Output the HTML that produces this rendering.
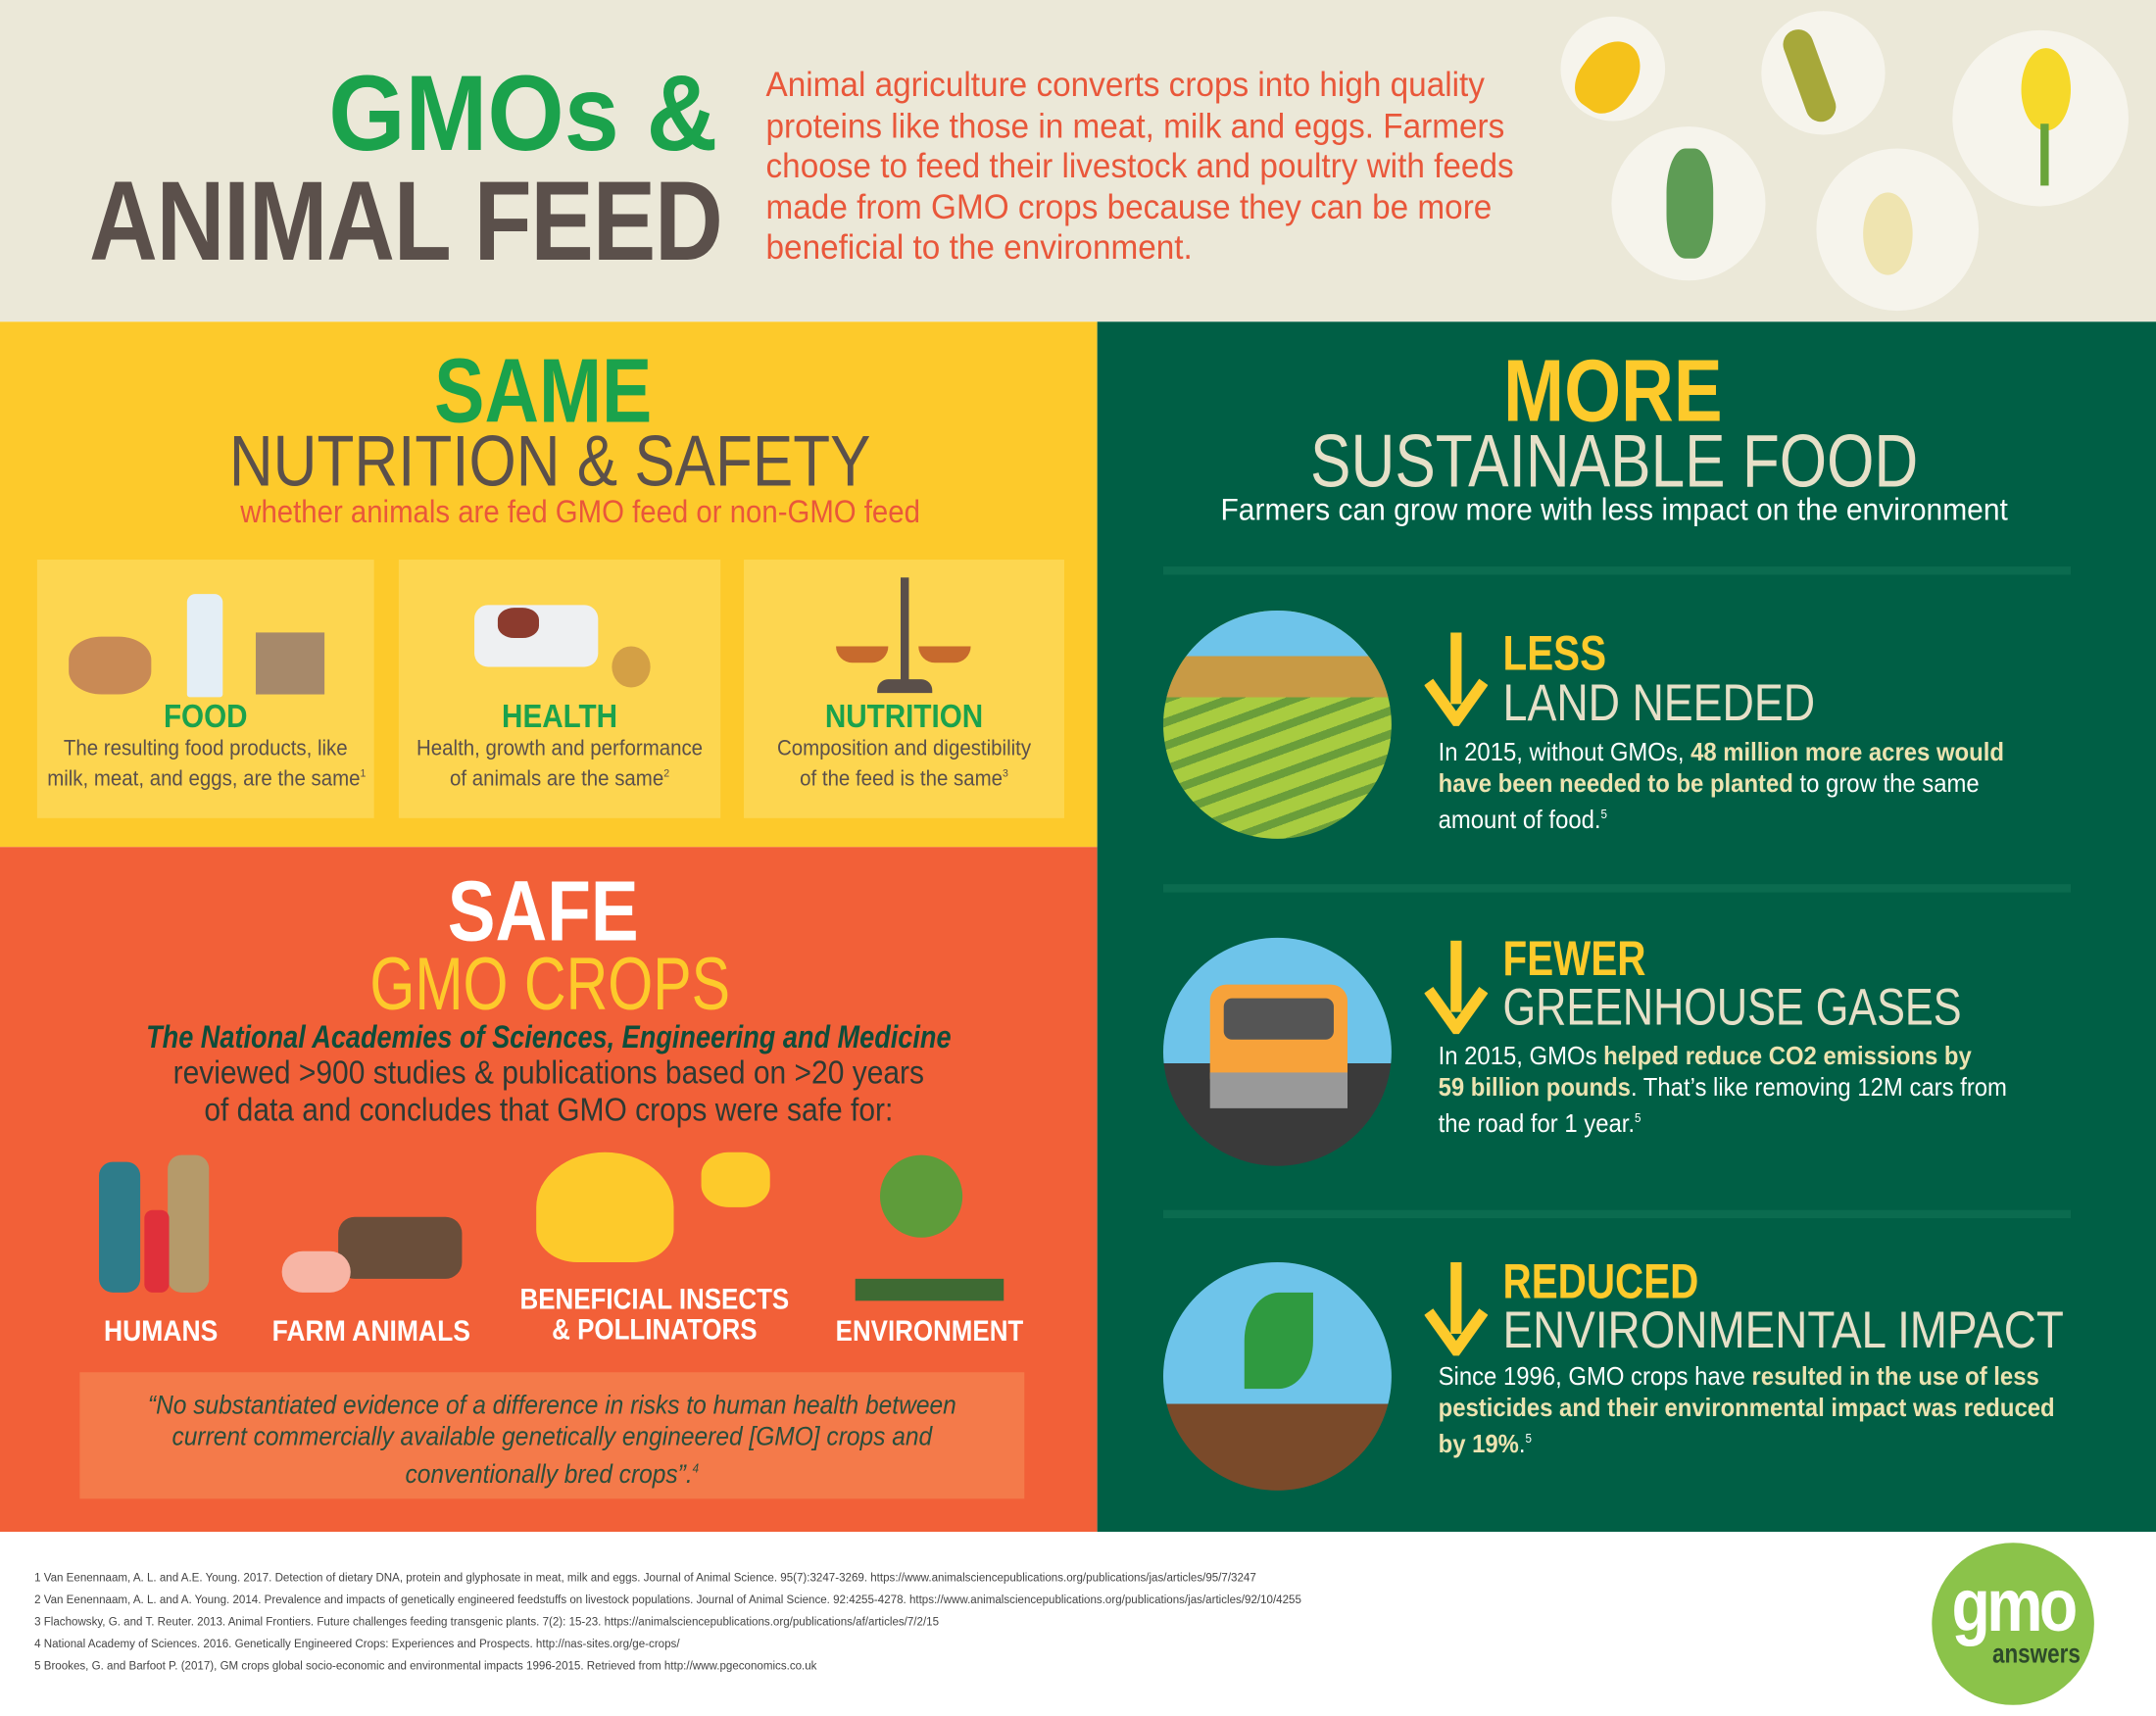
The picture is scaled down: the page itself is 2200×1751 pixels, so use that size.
<!DOCTYPE html>
<html><head><meta charset="utf-8"><style>
*{margin:0;padding:0;box-sizing:border-box}
html,body{width:2200px;height:1750px;overflow:hidden;background:#fff}
#w{position:absolute;left:0;top:0;width:1568px;height:1248px;transform:scale(1.40306);transform-origin:0 0;font-family:"Liberation Sans",sans-serif}
.a{position:absolute;white-space:nowrap}
.c{text-align:center}
.L{transform-origin:0 0}
.R{transform-origin:100% 0}
.circ{position:absolute;border-radius:50%;background:#f6f4ec}
.b{font-weight:bold}
</style></head><body><div id="w">
<!-- header -->
<div class="a" style="left:0;top:0;width:1568px;height:234px;background:#ebe8d8"></div>
<div class="a b R" style="left:20px;top:40px;width:502px;text-align:right;font-size:78px;line-height:84px;color:#1ba24c;transform:scaleX(.92)">GMOs &amp;</div>
<div class="a b R" style="left:-100px;top:120px;width:625px;text-align:right;font-size:82px;line-height:84px;color:#5b504b;letter-spacing:-1px;transform:scaleX(.84)">ANIMAL FEED</div>
<div class="a L" style="left:557px;top:48px;font-size:25px;line-height:29.6px;color:#e9573a;transform:scaleX(.95)">Animal agriculture converts crops into high quality<br>proteins like those in meat, milk and eggs. Farmers<br>choose to feed their livestock and poultry with feeds<br>made from GMO crops because they can be more<br>beneficial to the environment.</div>
<div class="circ" style="left:1135px;top:12px;width:76px;height:76px"></div>
<div class="circ" style="left:1281px;top:8px;width:90px;height:90px"></div>
<div class="circ" style="left:1420px;top:22px;width:128px;height:128px"></div>
<div class="circ" style="left:1172px;top:92px;width:112px;height:112px"></div>
<div class="circ" style="left:1321px;top:108px;width:118px;height:118px"></div>
<div class="a" style="left:1150px;top:28px;width:40px;height:55px;background:#f5c21b;border-radius:50% 50% 40% 40%;transform:rotate(35deg)"></div>
<div class="a" style="left:1305px;top:20px;width:22px;height:70px;background:#a7a83a;border-radius:12px;transform:rotate(-20deg)"></div>
<div class="a" style="left:1470px;top:35px;width:36px;height:60px;background:#f6d92a;border-radius:50%"></div>
<div class="a" style="left:1484px;top:90px;width:6px;height:45px;background:#6aa43a"></div>
<div class="a" style="left:1212px;top:108px;width:34px;height:80px;background:#5e9c55;border-radius:40%"></div>
<div class="a" style="left:1355px;top:140px;width:36px;height:60px;background:#efe4b0;border-radius:50%"></div>
<!-- yellow -->
<div class="a" style="left:0;top:234px;width:798px;height:382px;background:#fdca2b"></div>
<div class="a b c" style="left:0;top:248px;width:790px;font-size:66px;line-height:72px;color:#1ba24c;transform:scaleX(.83)">SAME</div>
<div class="a c" style="left:0;top:306px;width:800px;font-size:52px;line-height:60px;color:#5b504b;transform:scaleX(.85)">NUTRITION &amp; SAFETY</div>
<div class="a c" style="left:0;top:358px;width:844px;font-size:23px;line-height:28px;color:#e9573a;transform:scaleX(.91)">whether animals are fed GMO feed or non-GMO feed</div>
<div class="a" style="left:27px;top:407px;width:245px;height:188px;background:#fdd650"></div>
<div class="a" style="left:290px;top:407px;width:234px;height:188px;background:#fdd650"></div>
<div class="a" style="left:541px;top:407px;width:233px;height:188px;background:#fdd650"></div>
<div class="a" style="left:50px;top:463px;width:60px;height:42px;background:#c98a55;border-radius:40%"></div>
<div class="a" style="left:136px;top:432px;width:26px;height:75px;background:#e4eef5;border-radius:6px 6px 2px 2px"></div>
<div class="a" style="left:186px;top:460px;width:50px;height:45px;background:#a7896a"></div>
<div class="a" style="left:345px;top:440px;width:90px;height:45px;background:#eef0f2;border-radius:10px"></div>
<div class="a" style="left:362px;top:442px;width:30px;height:22px;background:#8c3b2e;border-radius:40%"></div>
<div class="a" style="left:445px;top:470px;width:28px;height:30px;background:#d4a045;border-radius:50%"></div>
<div class="a" style="left:655px;top:420px;width:6px;height:80px;background:#5a4f4a"></div>
<div class="a" style="left:638px;top:494px;width:40px;height:10px;background:#5a4f4a;border-radius:8px 8px 0 0"></div>
<div class="a" style="left:608px;top:470px;width:38px;height:12px;background:#c76a2d;border-radius:0 0 20px 20px"></div>
<div class="a" style="left:668px;top:470px;width:38px;height:12px;background:#c76a2d;border-radius:0 0 20px 20px"></div>
<div class="a b c" style="left:27px;top:508px;width:245px;font-size:24px;color:#1ba24c;transform:scaleX(.88)">FOOD</div>
<div class="a c" style="left:27px;top:536px;width:245px;font-size:15.5px;line-height:18px;color:#5b504b;transform:scaleX(.94)">The resulting food products, like<br>milk, meat, and eggs, are the same<sup style="font-size:8px">1</sup></div>
<div class="a b c" style="left:290px;top:508px;width:234px;font-size:24px;color:#1ba24c;transform:scaleX(.88)">HEALTH</div>
<div class="a c" style="left:290px;top:536px;width:234px;font-size:15.5px;line-height:18px;color:#5b504b;transform:scaleX(.94)">Health, growth and performance<br>of animals are the same<sup style="font-size:8px">2</sup></div>
<div class="a b c" style="left:541px;top:508px;width:233px;font-size:24px;color:#1ba24c;transform:scaleX(.88)">NUTRITION</div>
<div class="a c" style="left:541px;top:536px;width:233px;font-size:15.5px;line-height:18px;color:#5b504b;transform:scaleX(.94)">Composition and digestibility<br>of the feed is the same<sup style="font-size:8px">3</sup></div>
<!-- orange -->
<div class="a" style="left:0;top:616px;width:798px;height:498px;background:#f26038"></div>
<div class="a b c" style="left:0;top:628px;width:790px;font-size:62px;line-height:72px;color:#fff;transform:scaleX(.84)">SAFE</div>
<div class="a c" style="left:0;top:686px;width:800px;font-size:54px;line-height:60px;color:#fdca2b;transform:scaleX(.78)">GMO CROPS</div>
<div class="a b c" style="left:0;top:740px;width:798px;font-size:23px;line-height:28px;color:#0f4d3a;font-style:italic;transform:scaleX(.84)">The National Academies of Sciences, Engineering and Medicine</div>
<div class="a c" style="left:0;top:767px;width:798px;font-size:24px;line-height:27px;color:#2e3a33;transform:scaleX(.89)">reviewed &gt;900 studies &amp; publications based on &gt;20 years<br>of data and concludes that GMO crops were safe for:</div>
<div class="a" style="left:72px;top:845px;width:30px;height:95px;background:#2e7c8a;border-radius:10px"></div>
<div class="a" style="left:122px;top:840px;width:30px;height:100px;background:#b59a6a;border-radius:10px"></div>
<div class="a" style="left:105px;top:880px;width:18px;height:60px;background:#e0303a;border-radius:6px"></div>
<div class="a" style="left:246px;top:885px;width:90px;height:45px;background:#6a4e3a;border-radius:12px"></div>
<div class="a" style="left:205px;top:910px;width:50px;height:30px;background:#f7b5a5;border-radius:15px"></div>
<div class="a" style="left:390px;top:838px;width:100px;height:80px;background:#fdca2b;border-radius:50% 50% 30% 30%"></div>
<div class="a" style="left:510px;top:838px;width:50px;height:40px;background:#fdca2b;border-radius:40%"></div>
<div class="a" style="left:640px;top:840px;width:60px;height:60px;background:#5e9c3a;border-radius:50%"></div>
<div class="a" style="left:622px;top:930px;width:108px;height:16px;background:#3e6a33"></div>
<div class="a b c" style="left:47px;top:957px;width:140px;font-size:21px;color:#fff;transform:scaleX(.9)">HUMANS</div>
<div class="a b c" style="left:180px;top:957px;width:180px;font-size:21px;color:#fff;transform:scaleX(.9)">FARM ANIMALS</div>
<div class="a b c" style="left:346px;top:935px;width:260px;font-size:21px;line-height:22px;color:#fff;transform:scaleX(.88)">BENEFICIAL INSECTS<br>&amp; POLLINATORS</div>
<div class="a b c" style="left:596px;top:957px;width:160px;font-size:21px;color:#fff;transform:scaleX(.88)">ENVIRONMENT</div>
<div class="a" style="left:58px;top:998px;width:687px;height:92px;background:#f47a4a"></div>
<div class="a c" style="left:40px;top:1011px;width:723px;font-size:19px;line-height:23px;color:#2b4d3a;font-style:italic;transform:scaleX(.92)">“No substantiated evidence of a difference in risks to human health between<br>current commercially available genetically engineered [GMO] crops and<br>conventionally bred crops”.<sup style="font-size:9px">4</sup></div>
<!-- green -->
<div class="a" style="left:798px;top:234px;width:770px;height:880px;background:#005f45"></div>
<div class="a b c" style="left:798px;top:248px;width:750px;font-size:64px;line-height:72px;color:#fdca2b;transform:scaleX(.83)">MORE</div>
<div class="a c" style="left:798px;top:306px;width:752px;font-size:54px;line-height:60px;color:#e6e0c8;transform:scaleX(.82)">SUSTAINABLE FOOD</div>
<div class="a c" style="left:798px;top:357px;width:752px;font-size:22.5px;line-height:28px;color:#fff;transform:scaleX(.95)">Farmers can grow more with less impact on the environment</div>
<div class="a" style="left:846px;top:412px;width:660px;height:6px;background:#0b6b4f"></div>
<div class="a" style="left:846px;top:643px;width:660px;height:6px;background:#0b6b4f"></div>
<div class="a" style="left:846px;top:880px;width:660px;height:6px;background:#0b6b4f"></div>
<div class="a" style="left:846px;top:444px;width:166px;height:166px;border-radius:50%;background:repeating-linear-gradient(160deg,#a8cc40 0 10px,#6a9e3a 10px 16px);overflow:hidden"></div>
<div class="a" style="left:846px;top:444px;width:166px;height:166px;border-radius:50%;background:linear-gradient(#6ec4ea 0 20%,#c89a45 20% 38%,transparent 38%)"></div>
<div class="a" style="left:846px;top:682px;width:166px;height:166px;border-radius:50%;background:linear-gradient(#6ec4ea 0 55%,#3a3a3a 55%)"></div>
<div class="a" style="left:880px;top:716px;width:100px;height:72px;background:#f7a23a;border-radius:12px 12px 4px 4px"></div>
<div class="a" style="left:890px;top:726px;width:80px;height:30px;background:#555;border-radius:6px"></div>
<div class="a" style="left:880px;top:780px;width:100px;height:26px;background:#999"></div>
<div class="a" style="left:846px;top:918px;width:166px;height:166px;border-radius:50%;background:linear-gradient(#6ec4ea 0 62%,#7a4a2a 62%)"></div>
<div class="a" style="left:905px;top:940px;width:50px;height:70px;background:#2f9a40;border-radius:50% 0"></div>
<!-- arrows -->
<svg class="a" style="left:1036px;top:460px" width="46" height="68"><rect x="19" y="0" width="8" height="52" fill="#fdca2b"/><path d="M3 36 L23 64 L43 36" stroke="#fdca2b" stroke-width="8" fill="none"/></svg>
<svg class="a" style="left:1036px;top:684px" width="46" height="68"><rect x="19" y="0" width="8" height="52" fill="#fdca2b"/><path d="M3 36 L23 64 L43 36" stroke="#fdca2b" stroke-width="8" fill="none"/></svg>
<svg class="a" style="left:1036px;top:918px" width="46" height="68"><rect x="19" y="0" width="8" height="52" fill="#fdca2b"/><path d="M3 36 L23 64 L43 36" stroke="#fdca2b" stroke-width="8" fill="none"/></svg>
<div class="a b L" style="left:1093px;top:455px;font-size:36px;line-height:40px;color:#fdca2b;transform:scaleX(.8)">LESS</div>
<div class="a L" style="left:1093px;top:491px;font-size:38px;line-height:42px;color:#e6e0c8;transform:scaleX(.84)">LAND NEEDED</div>
<div class="a L" style="left:1046px;top:536px;font-size:18.5px;line-height:22.5px;color:#fff;transform:scaleX(.92)">In 2015, without GMOs, <b style="color:#ece3b0">48 million more acres would<br>have been needed to be planted</b> to grow the same<br>amount of food.<sup style="font-size:9px">5</sup></div>
<div class="a b L" style="left:1093px;top:677px;font-size:36px;line-height:40px;color:#fdca2b;transform:scaleX(.8)">FEWER</div>
<div class="a L" style="left:1093px;top:712px;font-size:38px;line-height:42px;color:#e6e0c8;transform:scaleX(.81)">GREENHOUSE GASES</div>
<div class="a L" style="left:1046px;top:757px;font-size:18.5px;line-height:22.5px;color:#fff;transform:scaleX(.92)">In 2015, GMOs <b style="color:#ece3b0">helped reduce CO2 emissions by<br>59 billion pounds</b>. That’s like removing 12M cars from<br>the road for 1 year.<sup style="font-size:9px">5</sup></div>
<div class="a b L" style="left:1093px;top:912px;font-size:36px;line-height:40px;color:#fdca2b;transform:scaleX(.8)">REDUCED</div>
<div class="a L" style="left:1093px;top:947px;font-size:38px;line-height:42px;color:#e6e0c8;transform:scaleX(.86)">ENVIRONMENTAL IMPACT</div>
<div class="a L" style="left:1046px;top:990px;font-size:18.5px;line-height:22.5px;color:#fff;transform:scaleX(.92)">Since 1996, GMO crops have <b style="color:#ece3b0">resulted in the use of less<br>pesticides and their environmental impact was reduced<br>by 19%</b>.<sup style="font-size:9px">5</sup></div>
<!-- footer -->
<div class="a L" style="left:25px;top:1139px;font-size:8.5px;line-height:16px;color:#444;transform:scaleX(.97)">1 Van Eenennaam, A. L. and A.E. Young. 2017. Detection of dietary DNA, protein and glyphosate in meat, milk and eggs. Journal of Animal Science. 95(7):3247-3269. https://www.animalsciencepublications.org/publications/jas/articles/95/7/3247<br>2 Van Eenennaam, A. L. and A. Young. 2014. Prevalence and impacts of genetically engineered feedstuffs on livestock populations. Journal of Animal Science. 92:4255-4278. https://www.animalsciencepublications.org/publications/jas/articles/92/10/4255<br>3 Flachowsky, G. and T. Reuter. 2013. Animal Frontiers. Future challenges feeding transgenic plants. 7(2): 15-23. https://animalsciencepublications.org/publications/af/articles/7/2/15<br>4 National Academy of Sciences. 2016. Genetically Engineered Crops: Experiences and Prospects. http://nas-sites.org/ge-crops/<br>5 Brookes, G. and Barfoot P. (2017), GM crops global socio-economic and environmental impacts 1996-2015. Retrieved from http://www.pgeconomics.co.uk</div>
<div class="a" style="left:1405px;top:1122px;width:118px;height:118px;border-radius:50%;background:#8bc34a"></div>
<div class="a b c" style="left:1400px;top:1140px;width:128px;font-size:54px;line-height:56px;color:#fff;letter-spacing:-3px;transform:scaleX(.85)">gmo</div>
<div class="a b R" style="left:1420px;top:1192px;width:93px;text-align:right;font-size:20px;color:#2d4a2a;transform:scaleX(.8)">answers</div>
</div></body></html>
